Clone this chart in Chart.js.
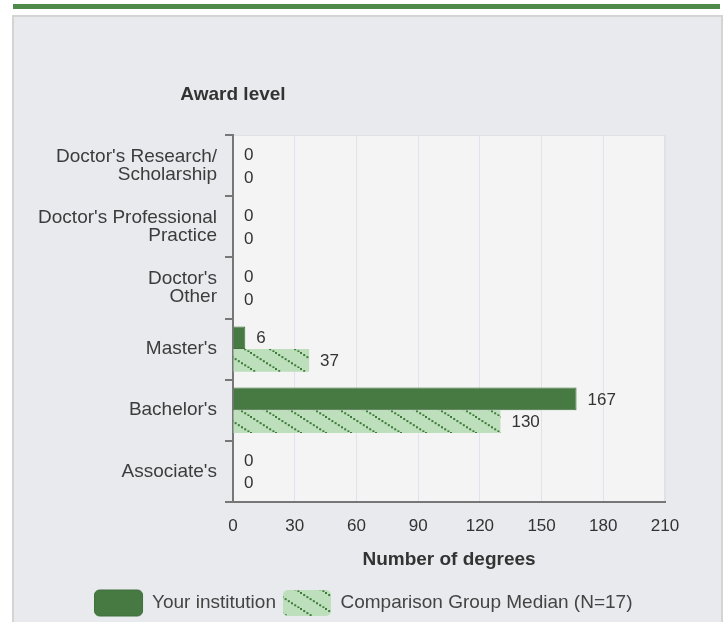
<!DOCTYPE html>
<html>
<head>
<meta charset="utf-8">
<script src="https://cdn.jsdelivr.net/npm/chart.js@4.4.1/dist/chart.umd.min.js"></script>
<style>
    html, body { margin: 0; padding: 0; background: #ffffff; }
    body { width: 726px; height: 622px; position: relative; overflow: hidden; }
    .topbar { position: absolute; left: 13px; top: 4px; width: 707px; height: 5px; background: #4e8a4a; }
    .panel { position: absolute; left: 12px; top: 15px; width: 707px; height: 640px; background: #e9eaee; border: 2px solid #d4d4d4; }
    .wrap { position: absolute; left: 0; top: 0; width: 726px; height: 622px; }
</style>
</head>
<body>
<div class="topbar"></div>
<div class="panel"></div>
<div class="wrap"><canvas id="degreesChart" width="726" height="622"></canvas></div>
<script>
const awardLevels = [
    ["Doctor's Research/", "Scholarship"],
    ["Doctor's Professional", "Practice"],
    ["Doctor's", "Other"],
    "Master's",
    "Bachelor's",
    "Associate's"
];
const yourInstitution = [0, 0, 0, 6, 167, 0];
const comparisonMedian = [0, 0, 0, 37, 130, 0];
const xTicks = [0, 30, 60, 90, 120, 150, 180, 210];

const FONT = "'Liberation Sans', Arial, sans-serif";

// dotted diagonal hatch for the comparison series
function makeHatch() {
    const c = document.createElement('canvas');
    c.width = 25;
    c.height = 16;
    const g = c.getContext('2d');
    g.fillStyle = '#bddfbc';
    g.fillRect(0, 0, 25, 16);
    g.fillStyle = '#3d7b3a';
    for (let t = 0; t < 25; t += 3.2) {
        g.fillRect(t, t * 16 / 25, 2, 2);
    }
    return g.createPattern(c, 'repeat');
}
const hatch = makeHatch();

const plotBackground = {
    id: 'plotBackground',
    beforeDraw(chart) {
        const { ctx, chartArea: a } = chart;
        ctx.save();
        ctx.fillStyle = '#f4f4f4';
        ctx.fillRect(a.left, a.top, a.right - a.left, a.bottom - a.top);
        ctx.strokeStyle = '#dfe1e6';
        ctx.lineWidth = 1;
        ctx.strokeRect(a.left + 0.5, a.top + 0.5, a.right - a.left - 1, a.bottom - a.top);
        ctx.restore();
    }
};

const valueLabels = {
    id: 'valueLabels',
    afterDatasetsDraw(chart) {
        const ctx = chart.ctx;
        ctx.save();
        ctx.font = '17px ' + FONT;
        ctx.fillStyle = '#333333';
        ctx.textAlign = 'left';
        ctx.textBaseline = 'middle';
        chart.data.datasets.forEach((ds, i) => {
            chart.getDatasetMeta(i).data.forEach((bar, j) => {
                ctx.fillText(String(ds.data[j]), bar.x + 11, bar.y + 1);
            });
        });
        ctx.restore();
    }
};

const axisHeading = {
    id: 'axisHeading',
    afterDraw(chart) {
        const ctx = chart.ctx;
        ctx.save();
        ctx.font = 'bold 19px ' + FONT;
        ctx.fillStyle = '#333333';
        ctx.textAlign = 'center';
        ctx.textBaseline = 'middle';
        ctx.fillText('Award level', chart.chartArea.left, chart.chartArea.top - 40);
        ctx.restore();
    }
};

// legend in the original sits a bit right of the plot centre
const legendShift = {
    id: 'legendShift',
    afterLayout(chart) {
        chart.legend.left += 31;
        chart.legend.right += 31;
    }
};

new Chart(document.getElementById('degreesChart'), {
    type: 'bar',
    data: {
        labels: awardLevels,
        datasets: [{
            label: 'Your institution',
            data: yourInstitution,
            backgroundColor: '#477a43',
            borderColor: '#3f6f3c',
            borderWidth: 1,
            borderRadius: 0
        }, {
            label: 'Comparison Group Median (N=17)',
            data: comparisonMedian,
            backgroundColor: hatch,
            borderWidth: 0
        }]
    },
    options: {
        indexAxis: 'y',
        responsive: false,
        animation: false,
        devicePixelRatio: 1,
        categoryPercentage: 0.74,
        barPercentage: 1.0,
        layout: { padding: { top: 135, right: 61, left: 0, bottom: -4 } },
        scales: {
            x: {
                min: 0,
                max: 210,
                afterBuildTicks(scale) {
                    scale.ticks = xTicks.map(v => ({ value: v }));
                },
                afterFit(scale) { scale.height = 81; },
                grid: { color: '#dfe3ec', lineWidth: 1, drawTicks: false },
                border: { color: '#777777', width: 2 },
                ticks: {
                    padding: 14,
                    color: '#333333',
                    font: { family: FONT, size: 17 }
                },
                title: {
                    display: true,
                    text: 'Number of degrees',
                    color: '#333333',
                    font: { family: FONT, size: 19, weight: 'bold' },
                    padding: { top: 11, bottom: 12 }
                }
            },
            y: {
                afterFit(scale) { scale.width = 233; },
                grid: {
                    drawOnChartArea: false,
                    drawTicks: true,
                    tickLength: 8,
                    color: '#777777',
                    lineWidth: 2
                },
                border: { color: '#777777', width: 2 },
                ticks: {
                    autoSkip: false,
                    padding: 8,
                    color: '#3c3c3c',
                    font: { family: FONT, size: 19, lineHeight: 0.95 }
                }
            }
        },
        plugins: {
            legend: {
                position: 'bottom',
                labels: {
                    boxWidth: 48,
                    boxHeight: 26,
                    useBorderRadius: true,
                    borderRadius: 5,
                    padding: 7,
                    color: '#444444',
                    font: { family: FONT, size: 19 }
                }
            },
            tooltip: { enabled: false }
        }
    },
    plugins: [plotBackground, valueLabels, axisHeading, legendShift]
});
</script>
</body>
</html>
